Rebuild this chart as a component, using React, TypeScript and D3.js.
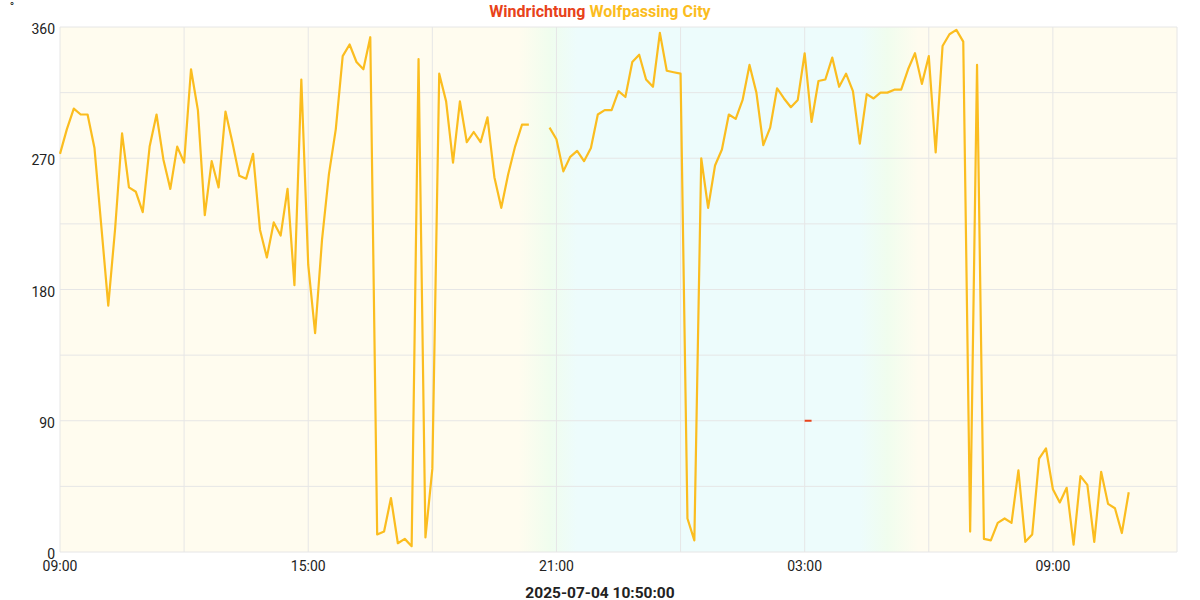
import React from "react";
import * as d3 from "d3";

const startTime = Date.UTC(2025, 6, 3, 9, 0, 0);
const endTime = Date.UTC(2025, 6, 4, 12, 0, 0);
const stepMinutes = 10;

// Wind direction (degrees), one value per 10 minutes from 2025-07-03 09:00
const windDirection: (number | null)[] = [
  273, 290, 304, 300, 300, 277, 223, 169, 222, 287,
  250, 247, 233, 278, 300, 269, 249, 278, 267, 331,
  303, 231, 268, 250, 302, 281, 258, 256, 273, 221,
  202, 226, 217, 249, 183, 324, 197, 150, 214, 259,
  290, 340, 348, 336, 331, 353, 12, 14, 37, 6,
  9, 4, 338, 10, 57, 328, 309, 267, 309, 281,
  288, 281, 298, 257, 236, 259, 278, 293, 293, null,
  null, 291, 283, 261, 271, 275, 268, 277, 300, 303,
  303, 316, 312, 336, 341, 324, 319, 356, 330, 329,
  328, 23, 8, 270, 236, 265, 276, 300, 297, 310,
  334, 315, 279, 291, 318, 311, 305, 310, 342, 295,
  323, 324, 339, 319, 328, 316, 280, 314, 311, 315,
  315, 317, 317, 331, 342, 321, 340, 274, 347, 355,
  358, 350, 14, 334, 9, 8, 20, 23, 20, 56,
  7, 12, 64, 71, 43, 34, 44, 5, 52, 46,
  7, 55, 33, 30, 13, 41,
];

// Second series (Windrichtung marker)
const markerTimes = [Date.UTC(2025, 6, 4, 3, 0, 0), Date.UTC(2025, 6, 4, 3, 10, 0)];
const markerValues = [90, 90];

const yTicks = [0, 90, 180, 270, 360];
const yGrid = [0, 45, 90, 135, 180, 225, 270, 315, 360];
const xLabelHours = [0, 6, 12, 18, 24];
const xGridHours = [0, 3, 6, 9, 12, 15, 18, 21, 24, 27];

const sunset = Date.UTC(2025, 6, 3, 20, 50, 0);
const sunrise = Date.UTC(2025, 6, 4, 5, 0, 0);

const titleA = "Windrichtung";
const titleB = "Wolfpassing City";
const unitLabel = "°";
const footerLabel = "2025-07-04 10:50:00";

const W = 1200;
const H = 600;
const M = { left: 60, right: 23, top: 27, bottom: 48 };

const DAY = "#fffcef";
const TWI = "#f0fdee";
const NIGHT = "#edfcfc";
const LINE = "#fbbd1f";
const RED = "#e8421a";

export default function App() {
  const x = d3.scaleUtc().domain([startTime, endTime]).range([M.left, W - M.right]);
  const y = d3.scaleLinear().domain([0, 360]).range([H - M.bottom, M.top]);
  const pts = windDirection.map((v, i) => ({ t: startTime + i * stepMinutes * 60000, v }));
  const line = d3
    .line<{ t: number; v: number | null }>()
    .defined((d) => d.v !== null)
    .x((d) => x(d.t))
    .y((d) => y(d.v as number));
  const markerLine = d3
    .line<number>()
    .x((_, i) => x(markerTimes[i]))
    .y((d) => y(d));
  const fmt = d3.utcFormat("%H:%M");
  const x0 = M.left;
  const x1 = W - M.right;
  const pw = x1 - x0;
  const off = (t: number) => ((x(t) - x0) / pw) * 100 + "%";
  const min = 60000;
  const stops = [
    { t: startTime, c: DAY },
    { t: sunset - 45 * min, c: DAY },
    { t: sunset, c: TWI },
    { t: sunset + 40 * min, c: NIGHT },
    { t: sunrise - 40 * min, c: NIGHT },
    { t: sunrise, c: TWI },
    { t: sunrise + 45 * min, c: DAY },
    { t: endTime, c: DAY },
  ];
  const font = "Roboto, 'Noto Sans', sans-serif";
  return (
    <svg width={W} height={H} style={{ position: "absolute", left: 0, top: 0, background: "#fff" }} fontFamily={font}>
      <defs>
        <linearGradient id="bg" x1="0" x2="1" y1="0" y2="0">
          {stops.map((s, i) => (
            <stop key={i} offset={off(s.t)} stopColor={s.c} />
          ))}
        </linearGradient>
      </defs>
      <rect x={x0} y={M.top} width={pw} height={H - M.bottom - M.top} fill="url(#bg)" />
      {yGrid.map((v) => (
        <line key={"gy" + v} x1={x0} x2={x1} y1={y(v)} y2={y(v)} stroke="#e6e6e6" strokeWidth={1} />
      ))}
      {xGridHours.map((h) => (
        <line
          key={"gx" + h}
          x1={x(startTime + h * 3600000)}
          x2={x(startTime + h * 3600000)}
          y1={M.top}
          y2={H - M.bottom}
          stroke="#e6e6e6"
          strokeWidth={1}
        />
      ))}
      <path d={line(pts) || ""} fill="none" stroke={LINE} strokeWidth={2.2} strokeLinejoin="round" />
      <path d={markerLine(markerValues) || ""} fill="none" stroke={RED} strokeWidth={2} />
      {yTicks.map((v) => (
        <text key={"ty" + v} x={55} y={y(v) + 7} textAnchor="end" fontSize={14} fill="#222">
          {v}
        </text>
      ))}
      {xLabelHours.map((h) => (
        <text key={"tx" + h} x={x(startTime + h * 3600000)} y={571} textAnchor="middle" fontSize={14} fill="#222">
          {fmt(new Date(startTime + h * 3600000))}
        </text>
      ))}
      <text x={12} y={11} textAnchor="middle" fontSize={12} fill="#222">
        {unitLabel}
      </text>
      <text x={600} y={17} textAnchor="middle" fontSize={16} fontWeight="bold">
        <tspan fill={RED}>{titleA}</tspan>
        <tspan fill={LINE}> {titleB}</tspan>
      </text>
      <text x={600} y={598} textAnchor="middle" fontSize={15.5} fontWeight="bold" fill="#222">
        {footerLabel}
      </text>
    </svg>
  );
}
